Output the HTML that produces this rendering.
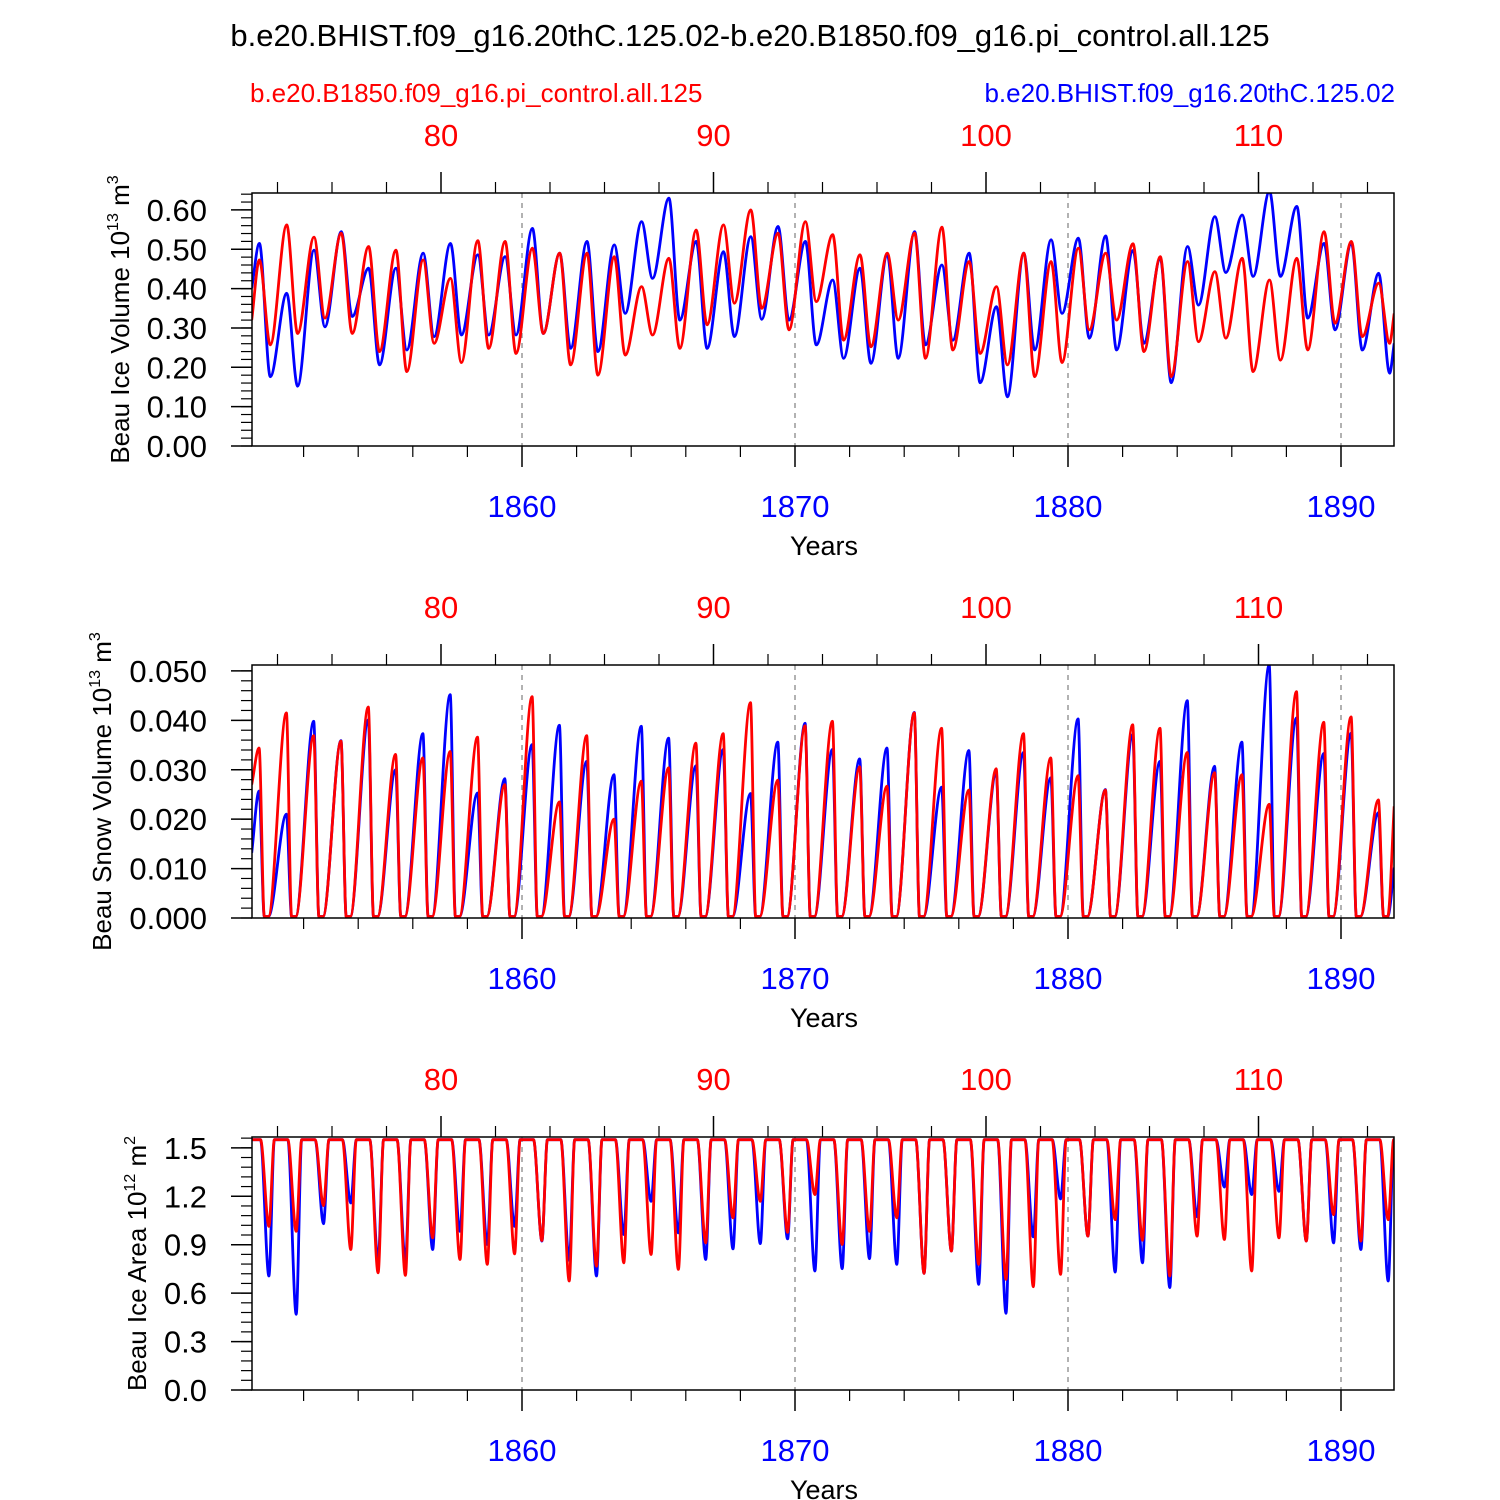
<!DOCTYPE html>
<html><head><meta charset="utf-8"><style>
html,body{margin:0;padding:0;background:#fff;}
svg{display:block;font-family:"Liberation Sans",Arial,sans-serif;}
</style></head><body>
<svg id="chart" width="1500" height="1500" viewBox="0 0 1500 1500" xmlns="http://www.w3.org/2000/svg">
<text x="750" y="46" font-size="31" text-anchor="middle">b.e20.BHIST.f09_g16.20thC.125.02-b.e20.B1850.f09_g16.pi_control.all.125</text>
<text x="250" y="102" font-size="26" fill="#ff0000">b.e20.B1850.f09_g16.pi_control.all.125</text>
<text x="1395" y="102" font-size="26" fill="#0000ff" text-anchor="end">b.e20.BHIST.f09_g16.20thC.125.02</text>
<g id="plots"></g>
</svg>
<script>
const years = [1850,1851,1852,1853,1854,1855,1856,1857,1858,1859,1860,1861,1862,1863,1864,1865,1866,1867,1868,1869,1870,1871,1872,1873,1874,1875,1876,1877,1878,1879,1880,1881,1882,1883,1884,1885,1886,1887,1888,1889,1890,1891];
const volBluePeak = [.515,.388,.498,.545,.452,.452,.490,.515,.486,.481,.553,.490,.520,.511,.570,.630,.520,.494,.532,.558,.520,.422,.452,.486,.545,.460,.490,.354,.490,.524,.528,.534,.497,.477,.507,.583,.587,.647,.609,.515,.515,.439];
const volBlueTrough = [.176,.152,.303,.329,.206,.244,.278,.282,.282,.282,.286,.248,.240,.337,.426,.320,.248,.278,.322,.320,.257,.223,.210,.223,.257,.269,.161,.125,.244,.337,.274,.244,.261,.161,.358,.441,.431,.431,.325,.295,.244,.185];
const volRedPeak = [.473,.562,.531,.541,.507,.498,.473,.426,.522,.520,.503,.490,.490,.481,.405,.477,.549,.562,.600,.541,.570,.537,.486,.490,.541,.556,.469,.405,.490,.469,.503,.490,.514,.481,.469,.443,.477,.422,.477,.545,.520,.414];
const volRedTrough = [.257,.286,.325,.286,.240,.189,.261,.212,.248,.235,.286,.206,.180,.231,.282,.248,.308,.363,.350,.295,.367,.269,.252,.320,.223,.244,.235,.206,.176,.212,.295,.320,.240,.176,.265,.274,.189,.218,.244,.312,.278,.261];
const volStart = [.401,.320]; const volEnd = [.261,.337];
const snowBluePeak = [.0257,.021,.0398,.0359,.0401,.030,.0373,.0452,.0253,.0282,.0351,.039,.0317,.029,.0388,.0364,.0308,.0341,.0252,.0356,.0394,.0341,.0322,.0344,.0416,.0265,.0339,.0294,.0335,.0284,.0403,.026,.0371,.0317,.044,.0307,.0356,.0512,.0405,.0333,.0374,.0213];
const snowRedPeak = [.0344,.0415,.0369,.0358,.0427,.0331,.0324,.0337,.0366,.027,.0448,.0235,.0369,.020,.0277,.0304,.0354,.0373,.0436,.0279,.0389,.0398,.0306,.0267,.0415,.0384,.0259,.0302,.0373,.0324,.0288,.0259,.0391,.0384,.0335,.0294,.029,.023,.0458,.0396,.0407,.0239];
const snowStart = [.0132,.027]; const snowEnd = [.0102,.0226];
const areaBlueTrough = [.706,.469,1.03,1.158,.798,.798,.870,.983,.901,1.014,.922,.804,.706,.963,1.169,.973,.808,.874,.907,.936,.737,.751,.813,.778,.722,.860,.654,.475,.948,1.183,.953,.730,.788,.634,1.072,1.257,1.21,1.23,.922,.911,.870,.675];
const areaRedTrough = [1.014,.983,1.142,.870,.726,.710,.942,.808,.778,.843,.926,.675,.767,.788,.839,.747,.911,1.066,1.169,.977,1.21,.901,.983,1.066,.722,.860,.778,.685,.640,.716,.953,1.055,.928,.706,.953,.932,.737,.942,.922,1.086,.922,1.055];
const areaMax = 1.55;
const topTicks = [80,90,100,110];
const bottomTicks = [1860,1870,1880,1890];

const NS = "http://www.w3.org/2000/svg";
const X0 = 252, X1 = 1394, T0 = 1850.1, T1 = 1891.95;
function xOf(t){ return 522 + (t - 1860) * 27.3; }
function xTop(r){ return 441 + (r - 80) * 27.25; }
function mk(tag, attrs, parent){ const e = document.createElementNS(NS, tag); for (const k in attrs) e.setAttribute(k, attrs[k]); parent.appendChild(e); return e; }

function monotonePath(pts){
  const n = pts.length; if (n < 2) return "";
  const dx = [], s = [], m = new Array(n);
  for (let i = 0; i < n-1; i++){ dx[i] = pts[i+1][0]-pts[i][0]; s[i] = (pts[i+1][1]-pts[i][1])/dx[i]; }
  m[0] = s[0]; m[n-1] = s[n-2];
  for (let i = 1; i < n-1; i++){ m[i] = (s[i-1]*s[i] <= 0) ? 0 : (s[i-1]+s[i])/2; }
  for (let i = 0; i < n-1; i++){
    if (s[i] === 0){ m[i] = 0; m[i+1] = 0; continue; }
    const a = m[i]/s[i], b = m[i+1]/s[i], h = a*a + b*b;
    if (h > 9){ const t = 3/Math.sqrt(h); m[i] = t*a*s[i]; m[i+1] = t*b*s[i]; }
  }
  let d = "M" + pts[0][0].toFixed(1) + "," + pts[0][1].toFixed(1);
  for (let i = 0; i < n-1; i++){
    const h = dx[i];
    d += "C" + (pts[i][0]+h/3).toFixed(1) + "," + (pts[i][1]+m[i]*h/3).toFixed(1) + " " +
         (pts[i+1][0]-h/3).toFixed(1) + "," + (pts[i+1][1]-m[i+1]*h/3).toFixed(1) + " " +
         pts[i+1][0].toFixed(1) + "," + pts[i+1][1].toFixed(1);
  }
  return d;
}

const plots = document.getElementById('plots');

function drawPanel(idx, off, yMax, yTicks, yMinorStep, fmt, titleParts, titleX, seriesList){
  const top = 193 + off, bot = 446 + off;
  const yOf = v => bot - (v / yMax) * (bot - top);
  const g = mk('g', {}, plots);
  
  
  const cp = mk('clipPath', {id: 'clip' + idx}, g);
  mk('rect', {x: X0, y: top, width: X1 - X0, height: bot - top}, cp);
  bottomTicks.forEach(yr => {
    const l = mk('line', {x1: xOf(yr), x2: xOf(yr), y1: top, y2: bot, stroke: '#888', 'stroke-width': 1.3, 'stroke-dasharray': '5,5'}, g);
    
    
  });
  seriesList.forEach(sr => {
    const pts = sr.pts.map(p => [xOf(p[0]), yOf(p[1])]);
    const p = mk('path', {d: monotonePath(pts), fill: 'none', stroke: sr.color, 'stroke-width': 2.8, 'stroke-linejoin': 'round', 'clip-path': 'url(#clip' + idx + ')'}, g);
    
    
  });
  const fr = mk('rect', {x: X0, y: top, width: X1 - X0, height: bot - top, fill: 'none', stroke: '#000', 'stroke-width': 1.5}, g);
  
  
  const ya = mk('g', {stroke: '#000', 'stroke-width': 1.2}, g);
  
  
  for (let v = 0; v <= yMax + 1e-9; v += yMinorStep){
    const y = yOf(v); if (y < top - 0.5) break;
    mk('line', {x1: X0 - 11, x2: X0, y1: y, y2: y}, ya);
  }
  yTicks.forEach(v => {
    const y = yOf(v);
    mk('line', {x1: X0 - 21, x2: X0, y1: y, y2: y, 'stroke-width': 1.5}, ya);
    const t = mk('text', {x: 207, y: y + 11, 'font-size': 31, 'text-anchor': 'end', stroke: 'none', fill: '#000'}, ya);
    t.textContent = v.toFixed(fmt);
    
    
  });
  const ta = mk('g', {stroke: '#000', 'stroke-width': 1.2}, g);
  
  
  for (let r = 74; r <= 116; r += 2){
    const x = xTop(r); if (x < X0 || x > X1) continue;
    const major = topTicks.indexOf(r) >= 0;
    mk('line', {x1: x, x2: x, y1: top, y2: top - (major ? 21 : 11), 'stroke-width': major ? 1.5 : 1.2}, ta);
  }
  topTicks.forEach(r => {
    const t = mk('text', {x: xTop(r), y: top - 47, 'font-size': 31, 'text-anchor': 'middle', stroke: 'none', fill: '#ff0000'}, ta);
    t.textContent = r;
    
    
  });
  const ba = mk('g', {stroke: '#000', 'stroke-width': 1.2}, g);
  
  
  for (let yr = 1850; yr <= 1892; yr += 2){
    const x = xOf(yr); if (x < X0 || x > X1) continue;
    const major = bottomTicks.indexOf(yr) >= 0;
    mk('line', {x1: x, x2: x, y1: bot, y2: bot + (major ? 21 : 11), 'stroke-width': major ? 1.5 : 1.2}, ba);
  }
  bottomTicks.forEach(yr => {
    const t = mk('text', {x: xOf(yr), y: bot + 71, 'font-size': 31, 'text-anchor': 'middle', stroke: 'none', fill: '#0000ff'}, ba);
    t.textContent = yr;
    
    
  });
  const xt = mk('text', {x: 824, y: bot + 109, 'font-size': 27, 'text-anchor': 'middle', fill: '#000'}, g);
  xt.textContent = 'Years';
  
  
  const cy = (top + bot) / 2;
  const yt = mk('text', {x: 0, y: 0, 'font-size': 26, 'text-anchor': 'middle', transform: 'translate(' + titleX + ',' + cy + ') rotate(-90)', fill: '#000'}, g);
  
  
  titleParts.forEach(p => {
    const ts = mk('tspan', p.sup ? {'font-size': 16, dy: -11} : (p.after ? {dy: 11} : {}), yt);
    ts.textContent = p.t;
  });
}

function volPts(peak, trough, si){
  const pts = [[T0, volStart[si]]];
  years.forEach((y, i) => { pts.push([y + 0.38, peak[i]]); pts.push([y + 0.78, trough[i]]); });
  pts.push([T1, volEnd[si]]);
  return pts;
}
function snowPts(peak, si){
  const pts = [[T0, snowStart[si]]];
  years.forEach((y, i) => { pts.push([y + 0.37, peak[i]]); pts.push([y + 0.56, 0.0003]); pts.push([y + 0.71, 0.0003]); });
  pts.push([T1, snowEnd[si]]);
  return pts;
}
function areaPts(trough){
  const pts = [[T0, areaMax]];
  years.forEach((y, i) => { pts.push([y + 0.42, areaMax]); pts.push([y + 0.73, trough[i]]); pts.push([y + 0.93, areaMax]); });
  pts.push([T1, areaMax]);
  return pts;
}

drawPanel(1, 0, 0.643, [0,.1,.2,.3,.4,.5,.6], 0.02, 2,
  [{t:'Beau Ice Volume 10'},{t:'13',sup:true},{t:' m',after:true},{t:'3',sup:true}], 129,
  [{name:'series-hist-ice-volume', color:'#0000ff', pts: volPts(volBluePeak, volBlueTrough, 0)},
   {name:'series-control-ice-volume', color:'#ff0000', pts: volPts(volRedPeak, volRedTrough, 1)}]);
drawPanel(2, 472, 0.0512, [0,.01,.02,.03,.04,.05], 0.002, 3,
  [{t:'Beau Snow Volume 10'},{t:'13',sup:true},{t:' m',after:true},{t:'3',sup:true}], 111,
  [{name:'series-hist-snow-volume', color:'#0000ff', pts: snowPts(snowBluePeak, 0)},
   {name:'series-control-snow-volume', color:'#ff0000', pts: snowPts(snowRedPeak, 1)}]);
drawPanel(3, 944, 1.567, [0,.3,.6,.9,1.2,1.5], 0.06, 1,
  [{t:'Beau Ice Area 10'},{t:'12',sup:true},{t:' m',after:true},{t:'2',sup:true}], 146,
  [{name:'series-hist-ice-area', color:'#0000ff', pts: areaPts(areaBlueTrough)},
   {name:'series-control-ice-area', color:'#ff0000', pts: areaPts(areaRedTrough)}]);
</script>
</body></html>
